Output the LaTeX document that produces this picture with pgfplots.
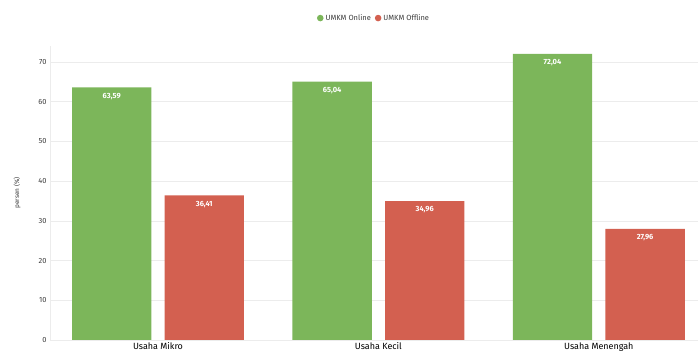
\documentclass[border=0pt]{standalone}
\usepackage{pgfplots}
\pgfplotsset{compat=1.18}
\usepackage{fontspec}
\setmainfont{Fira Sans}
\usetikzlibrary{calc}
\definecolor{cgreen}{RGB}{124,182,90}
\definecolor{cred}{RGB}{211,96,80}
\definecolor{cgrid}{RGB}{236,236,236}
\definecolor{ctext}{RGB}{60,60,60}
\begin{document}
\begin{tikzpicture}[x=1bp,y=1bp]
\begin{axis}[
  name=ax,
  scale only axis,
  width=648bp, height=294bp,
  ybar, bar width=0.36,
  xmin=-0.49, xmax=2.45,
  ymin=0, ymax=74,
  xtick={0,1,2},
  xticklabels={Usaha Mikro,Usaha Kecil,Usaha Menengah},
  ytick={0,10,...,70},
  ymajorgrids, grid style={cgrid, line width=0.6bp},
  axis line style={draw=none},
  tick style={draw=none},
  major tick length=0pt,
  xticklabel style={font=\fontsize{9}{10}\selectfont, text=black, yshift=1bp},
  yticklabel style={font=\fontsize{7.5}{8}\selectfont, text=ctext},
  /pgf/number format/assume math mode=true,
  ylabel={persen (\%)},
  every axis y label/.style={at={(axis description cs:0,0.5)}, rotate=90, anchor=center, yshift=33bp,
     font=\fontsize{6.5}{7}\selectfont, text=ctext},
  legend columns=2,
  legend style={draw=none, fill=none, at={(axis description cs:0.5,1.095)}, anchor=center,
     font=\fontsize{7.5}{8}\selectfont, text=ctext, /tikz/every even column/.append style={column sep=2bp}},
  legend image code/.code={\fill[#1] (3bp,0bp) circle (3.3bp);},
  nodes near coords,
  nodes near coords style={font=\bfseries\fontsize{7.5}{8}\selectfont, text=white, anchor=north, yshift=-2bp,
     /pgf/number format/.cd, use comma, fixed, fixed zerofill, precision=2},
  clip=false,
]
\draw[cgrid, line width=0.8bp] (axis cs:-0.49,0) -- (axis cs:-0.49,74);
\draw[cgrid, line width=0.8bp] (axis cs:-0.49,0) -- (axis cs:2.45,0);
\addplot[fill=cgreen, draw=none, bar shift=-0.21] coordinates {(0,63.59) (1,65.04) (2,72.04)};
\addplot[fill=cred, draw=none, bar shift=0.21] coordinates {(0,36.41) (1,34.96) (2,27.96)};
\legend{UMKM Online, UMKM Offline}
\end{axis}
\pgfresetboundingbox
\path ($(ax.south west)+(-50bp,-18bp)$) rectangle ($(ax.north east)+(0bp,46bp)$);
\end{tikzpicture}
\end{document}
